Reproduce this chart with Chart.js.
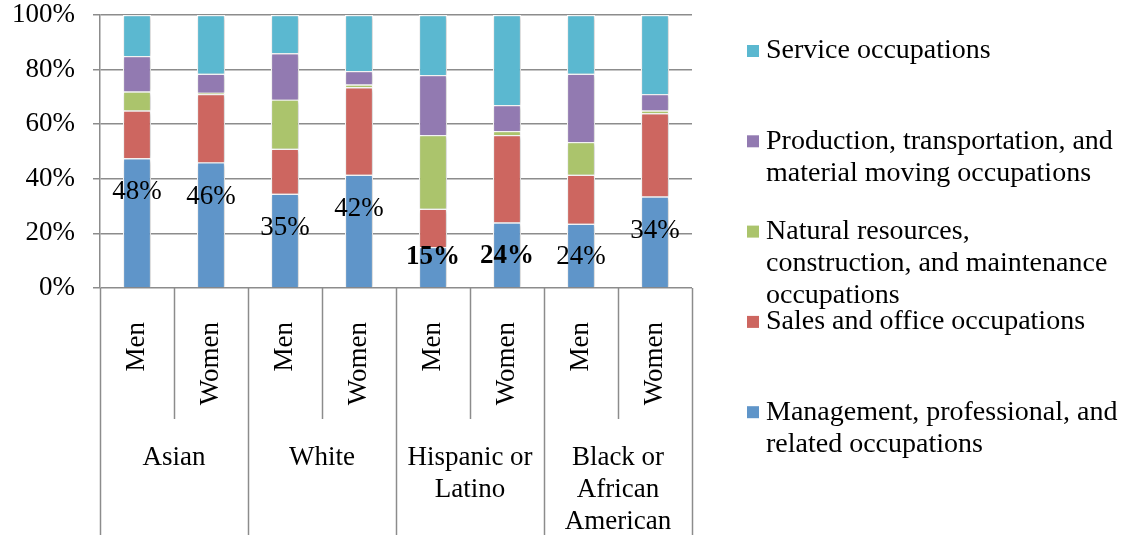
<!DOCTYPE html>
<html>
<head>
<meta charset="utf-8">
<script src="https://cdn.jsdelivr.net/npm/chart.js"></script>
<style>
    html, body { margin: 0; padding: 0; background: #fff; }
    #wrap { width: 1129px; height: 535px; position: relative; }
</style>
</head>
<body>
<div id="wrap"><canvas id="grafico"></canvas></div>
<script>
const categorias = ["Men", "Women", "Men", "Women", "Men", "Women", "Men", "Women"];
const grupos = [["Asian"], ["White"], ["Hispanic or", "Latino"], ["Black or", "African", "American"]];
const yTicks = [0, 20, 40, 60, 80, 100];

const gestao = [47.5, 46, 34.5, 41.5, 15, 24, 23.5, 33.5];
const vendas = [17.5, 25, 16.5, 32, 14, 32, 18, 30.5];
const naturais = [7, 0.5, 18, 1, 27, 1.5, 12, 1];
const producao = [13, 7, 17, 5, 22, 9.5, 25, 6];
const servicos = [15, 21.5, 14, 20.5, 22, 33, 21.5, 29];

const nomesSeries = [
    ["Management, professional, and", "related occupations"],
    ["Sales and office occupations"],
    ["Natural resources,", "construction, and maintenance", "occupations"],
    ["Production, transportation, and", "material moving occupations"],
    ["Service occupations"],
];
const cores = ["#5f95c9", "#cd6660", "#abc46c", "#927ab1", "#5bb8d0"];
const rotulosNegrito = [4, 5];

const fonte = "'Liberation Serif', serif";
const cinza = "#8c8c8c";

// sombra leve nas barras, como no Excel
const sombra = {
    id: "sombra",
    beforeDatasetsDraw(chart) {
        const ctx = chart.ctx;
        ctx.save();
        ctx.shadowColor = "rgba(0, 0, 0, 0.22)";
        ctx.shadowBlur = 4;
        ctx.shadowOffsetX = 1;
        ctx.shadowOffsetY = 1;
    },
    afterDatasetsDraw(chart) {
        chart.ctx.restore();
    },
};

const eixoGrupos = {
    id: "eixoGrupos",
    afterDraw(chart) {
        const ctx = chart.ctx;
        const area = chart.chartArea;
        const x = chart.scales.x;
        ctx.save();
        ctx.strokeStyle = cinza;
        ctx.lineWidth = 1.5;
        for (let i = 0; i <= categorias.length; i++) {
            const px = Math.round(x.getPixelForValue(i - 0.5)) + 0.5;
            const fim = i % 2 === 0 ? chart.height : area.bottom + 131;
            ctx.beginPath();
            ctx.moveTo(px, area.bottom);
            ctx.lineTo(px, fim);
            ctx.stroke();
        }
        ctx.fillStyle = "#000";
        ctx.font = "27px " + fonte;
        ctx.textAlign = "center";
        ctx.textBaseline = "middle";
        grupos.forEach((linhas, g) => {
            const cx = x.getPixelForValue(g * 2 + 0.5);
            linhas.forEach((t, k) => ctx.fillText(t, cx, area.bottom + 170 + k * 32));
        });
        ctx.restore();
    },
};

const legenda = {
    id: "legenda",
    afterDraw(chart) {
        const ctx = chart.ctx;
        ctx.save();
        ctx.font = "28px " + fonte;
        ctx.textBaseline = "middle";
        ctx.textAlign = "left";
        for (let i = 0; i < nomesSeries.length; i++) {
            const s = nomesSeries.length - 1 - i;
            const y0 = 51 + i * 90.3;
            ctx.fillStyle = cores[s];
            ctx.fillRect(747, y0 - 6, 12, 12);
            ctx.fillStyle = "#000";
            nomesSeries[s].forEach((t, k) => ctx.fillText(t, 766, y0 + k * 32));
        }
        ctx.restore();
    },
};

const rotulos = {
    id: "rotulos",
    afterDatasetsDraw(chart) {
        const ctx = chart.ctx;
        const area = chart.chartArea;
        const meta = chart.getDatasetMeta(0);
        ctx.save();
        ctx.fillStyle = "#000";
        ctx.textAlign = "center";
        ctx.textBaseline = "middle";
        meta.data.forEach((el, i) => {
            const negrito = rotulosNegrito.includes(i);
            ctx.font = (negrito ? "bold " : "") + "27px " + fonte;
            const y = Math.min(el.y + 34, area.bottom - 31);
            ctx.fillText(Math.round(gestao[i]) + "%", el.x, y);
        });
        ctx.restore();
    },
};

function grafico() {
    const ctx = document.getElementById("grafico").getContext("2d");
    const series = [gestao, vendas, naturais, producao, servicos];

    new Chart(ctx, {
        type: "bar",
        data: {
            labels: categorias,
            datasets: series.map((dados, i) => ({
                label: nomesSeries[i].join(" "),
                data: dados,
                backgroundColor: cores[i],
                borderColor: "#ffffff",
                borderWidth: 1.2,
                barPercentage: 1,
                categoryPercentage: 0.38,
            })),
        },
        options: {
            responsive: true,
            maintainAspectRatio: false,
            animation: false,
            layout: { padding: { top: 15, right: 437, left: 0, bottom: 0 } },
            plugins: {
                legend: { display: false },
                tooltip: { enabled: false },
            },
            scales: {
                x: {
                    stacked: true,
                    grid: { display: false },
                    border: { display: false },
                    ticks: {
                        autoSkip: false,
                        minRotation: 90,
                        maxRotation: 90,
                        padding: 26,
                        color: "#000",
                        font: { family: fonte, size: 27 },
                    },
                    afterFit(scale) { scale.height = 247; },
                },
                y: {
                    stacked: true,
                    min: 0,
                    max: 100,
                    afterBuildTicks(scale) { scale.ticks = yTicks.map(v => ({ value: v })); },
                    grid: { color: cinza, lineWidth: 1.5, tickLength: 7 },
                    border: { color: cinza, width: 1.5 },
                    ticks: {
                        padding: 18,
                        color: "#000",
                        font: { family: fonte, size: 27 },
                        callback: v => v + "%",
                    },
                    afterFit(scale) {
                        scale.width = 100;
                        scale.paddingTop = 0;
                        scale.paddingBottom = 0;
                    },
                },
            },
        },
        plugins: [sombra, eixoGrupos, legenda, rotulos],
    });
}

grafico();
</script>
</body>
</html>
